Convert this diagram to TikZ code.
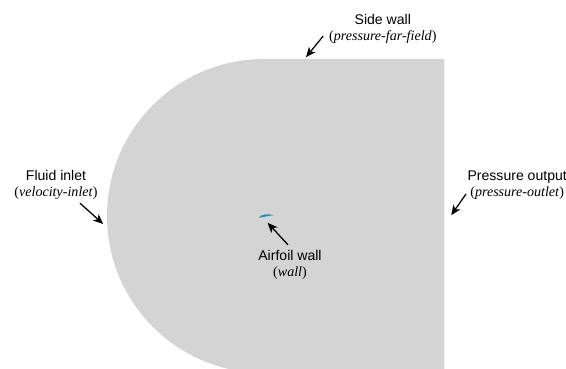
\documentclass[tikz,border=0pt]{standalone}
\usepackage{fontspec}
\usetikzlibrary{arrows.meta}
\setmainfont{Liberation Sans}
\newfontfamily\timesfont{Liberation Serif}
\newcommand{\bctype}[1]{{\timesfont (\textit{#1})}}
\definecolor{foilblue}{HTML}{1F8FB5}
\begin{document}
\begin{tikzpicture}[
  font=\fontsize{10}{11.4}\selectfont,
  lbl/.style={align=center, inner sep=0pt},
  pt/.style={-{Stealth[length=2.5mm,width=2.1mm,inset=0.7mm]}, black, line width=0.9pt},
  fluid/.style={fill=black!17, draw=none},
  foil/.style={fill=foilblue, draw=none}
]
\useasboundingbox (0,0) rectangle (14.15,9.2);
\clip (0,0) rectangle (14.15,9.2);

% fluid domain
\fill[fluid] (11.11,7.725) -- (6.6,7.725) arc (90:270:3.925) -- (11.11,-0.125) -- cycle;

% airfoil
\fill[foil] (6.47,3.755) .. controls (6.52,3.85) and (6.7,3.86) .. (6.86,3.82)
  .. controls (6.72,3.815) and (6.6,3.77) .. cycle;

% labels
\node[lbl] (sidewall) at (9.57,8.485) {Side wall\\\bctype{pressure-far-field}};
\node[lbl] (inlet) at (1.4,4.575) {Fluid inlet\\\bctype{velocity-inlet}};
\node[lbl] (outlet) at (12.93,4.575) {Pressure output\\\bctype{pressure-outlet}};
\node[lbl] (foilwall) at (7.25,2.57) {Airfoil wall\\\bctype{wall}};

% arrow ends
\coordinate (sidefrom) at (8.08,8.3);
\coordinate (sideto) at (7.65,7.77);
\coordinate (inletfrom) at (2.0,4.12);
\coordinate (inletto) at (2.58,3.6);
\coordinate (outletfrom) at (11.65,4.35);
\coordinate (outletto) at (11.28,3.82);
\coordinate (foilfrom) at (7.2,3.08);
\coordinate (foilto) at (6.69,3.63);

\draw[pt] (sidefrom) -- (sideto);
\draw[pt] (inletfrom) -- (inletto);
\draw[pt] (outletfrom) -- (outletto);
\draw[pt] (foilfrom) -- (foilto);

\end{tikzpicture}
\end{document}
